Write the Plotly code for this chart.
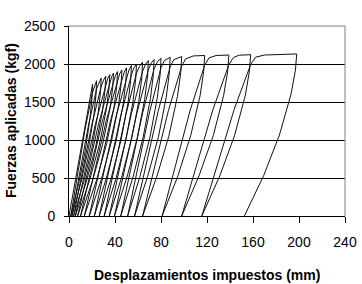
import plotly.graph_objects as go

# Hysteresis cycles: displacement (mm) and force (kgf)
cycle_disp = [
    [0, 14, 18.5, 20.5, 20.0, 18.4, 14.2, 8.5, 1.5],
    [1.5, 14.0, 20.5, 22.25, 24, 23.5, 21.7, 16.9, 10.4, 2.5],
    [2.5, 16.7, 24, 26.0, 28, 27.4, 25.4, 20.1, 12.9, 4],
    [4, 19.8, 28, 30.0, 32, 31.3, 29.1, 23.3, 15.3, 5.5],
    [5.5, 23.0, 32, 33.75, 35.5, 34.8, 32.4, 26.3, 17.8, 7.5],
    [7.5, 26.0, 35.5, 37.1, 38.7, 38.0, 35.6, 29.2, 20.6, 10],
    [10, 28.9, 38.7, 40.45, 42.2, 41.5, 39.1, 32.7, 24.0, 13.3],
    [13.3, 32.4, 42.2, 44.1, 46, 45.3, 42.9, 36.6, 28.1, 17.6],
    [17.6, 36.3, 46, 48.0, 50, 49.3, 47.0, 40.8, 32.3, 22],
    [22, 40.5, 50, 52.15, 54.3, 53.6, 51.3, 45.1, 36.6, 26.3],
    [26.3, 44.8, 54.3, 56.5, 58.7, 58.0, 55.6, 49.4, 41.0, 30.6],
    [30.6, 49.2, 58.7, 61.35, 64, 63.3, 60.8, 54.4, 45.7, 35],
    [35, 54.1, 64, 66.5, 69, 68.3, 65.8, 59.3, 50.4, 39.5],
    [39.5, 59.0, 69, 71.5, 74, 73.3, 70.8, 64.4, 55.7, 45],
    [45, 64.1, 74, 76.9, 80, 79.3, 76.8, 70.4, 61.7, 51],
    [51, 70.1, 80, 82.9, 88, 87.2, 84.6, 77.8, 68.4, 57],
    [57, 77.5, 88, 91.1, 98, 97.2, 94.3, 86.8, 76.5, 64],
    [64, 86.4, 98, 101.4, 108, 118, 117.1, 114.0, 105.8, 94.7, 81],
    [81, 105.4, 118, 121.7, 128, 139, 138.0, 134.5, 125.5, 113.1, 98],
    [98, 125.1, 139, 143.1, 148, 158, 156.9, 153.4, 144.0, 131.2, 115.5],
    [115.5, 143.6, 158, 162.3, 170, 185, 198, 196.9, 193.0, 183.0, 169.3, 152.5],
]
cycle_force = [
    [0, 1200, 1560, 1733, 1560, 1300, 867, 433, 0],
    [0, 1144, 1629, 1707, 1780, 1602, 1335, 890, 445, 0],
    [0, 1175, 1673, 1753, 1815, 1634, 1361, 908, 454, 0],
    [0, 1198, 1706, 1788, 1840, 1656, 1380, 920, 460, 0],
    [0, 1214, 1730, 1812, 1862, 1676, 1397, 931, 466, 0],
    [0, 1229, 1750, 1834, 1880, 1692, 1410, 940, 470, 0],
    [0, 1241, 1767, 1852, 1900, 1710, 1425, 950, 475, 0],
    [0, 1254, 1786, 1872, 1922, 1730, 1442, 961, 481, 0],
    [0, 1269, 1807, 1893, 1950, 1755, 1463, 975, 488, 0],
    [0, 1287, 1833, 1921, 1980, 1782, 1485, 990, 495, 0],
    [0, 1307, 1861, 1950, 2000, 1800, 1500, 1000, 500, 0],
    [0, 1320, 1880, 1970, 2025, 1823, 1519, 1013, 506, 0],
    [0, 1337, 1904, 1995, 2045, 1841, 1534, 1023, 511, 0],
    [0, 1350, 1922, 2014, 2060, 1854, 1545, 1030, 515, 0],
    [0, 1360, 1936, 2029, 2075, 1868, 1556, 1038, 519, 0],
    [0, 1370, 1951, 2044, 2088, 1879, 1566, 1044, 522, 0],
    [0, 1378, 1963, 2057, 2098, 1888, 1574, 1049, 525, 0],
    [0, 1385, 1972, 2067, 2106, 2112, 1901, 1584, 1056, 528, 0],
    [0, 1394, 1985, 2080, 2112, 2118, 1906, 1589, 1059, 530, 0],
    [0, 1398, 1991, 2086, 2116, 2122, 1910, 1592, 1061, 531, 0],
    [0, 1401, 1995, 2090, 2118, 2126, 2132, 1919, 1599, 1066, 533, 0],
]

x_ticks = [0, 40, 80, 120, 160, 200, 240]
y_ticks = [0, 500, 1000, 1500, 2000, 2500]
x_title = "Desplazamientos impuestos (mm)"
y_title = "Fuerzas aplicadas (kgf)"

xs, ys = [], []
for cx, cy in zip(cycle_disp, cycle_force):
    xs.extend(cx)
    ys.extend(cy)

font_family = "Liberation Sans, Arial, sans-serif"

fig = go.Figure()
fig.add_trace(go.Scatter(x=xs, y=ys, mode="lines",
                         line=dict(color="#111111", width=1),
                         showlegend=False, hoverinfo="skip"))

fig.update_layout(
    width=362, height=284,
    margin=dict(l=69, r=17, t=26, b=68, autoexpand=False),
    paper_bgcolor="white", plot_bgcolor="white",
    font=dict(family=font_family, size=14, color="black"),
    xaxis=dict(range=[0, 240], tickvals=x_ticks, ticktext=[str(v) for v in x_ticks],
               automargin=False,
               showgrid=False, zeroline=False,
               showline=True, linecolor="black", linewidth=1,
               ticks="outside", ticklen=6, tickcolor="black",
               ticklabelstandoff=7,
               tickfont=dict(size=14, family=font_family, color="black")),
    yaxis=dict(range=[0, 2500], tickvals=y_ticks, ticktext=[str(v) for v in y_ticks],
               automargin=False,
               showgrid=True, gridcolor="black", gridwidth=1, zeroline=False,
               showline=True, linecolor="black", linewidth=1,
               ticks="outside", ticklen=4, tickcolor="black",
               ticklabelstandoff=6,
               tickfont=dict(size=14, family=font_family, color="black")),
    shapes=[
        dict(type="line", xref="paper", yref="paper", x0=0, x1=1, y0=1, y1=1,
             line=dict(color="#808080", width=1)),
        dict(type="line", xref="paper", yref="paper", x0=1, x1=1, y0=0, y1=1,
             line=dict(color="#808080", width=1)),
    ],
    annotations=[
        dict(text="<b>" + x_title + "</b>", xref="paper", yref="paper",
             x=0.5, y=-59 / 190, xanchor="center", yanchor="middle",
             showarrow=False, font=dict(size=14, family=font_family, color="black")),
        dict(text="<b>" + y_title + "</b>", xref="paper", yref="paper",
             x=-58 / 276, y=0.5, xanchor="center", yanchor="middle", textangle=-90,
             showarrow=False, font=dict(size=14, family=font_family, color="black")),
    ],
)

fig.write_html("out.html",
               config={"displayModeBar": False},
               post_script="document.body.style.margin='0';document.body.style.overflow='hidden';")
